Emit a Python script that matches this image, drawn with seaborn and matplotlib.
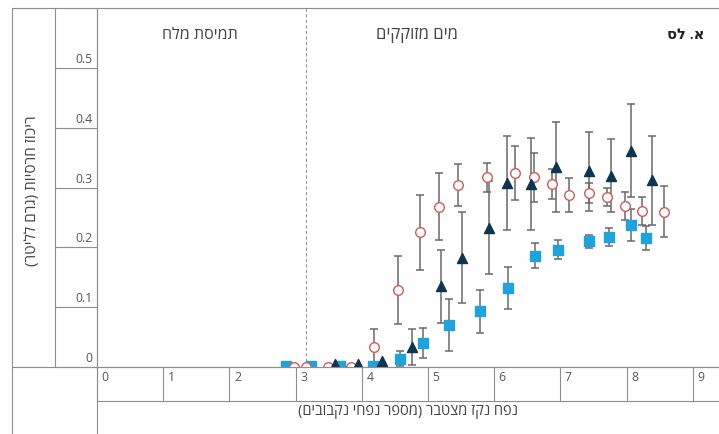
import matplotlib
matplotlib.use("Agg")
import numpy as np
import pandas as pd
import seaborn as sns
from matplotlib import pyplot as plt
from matplotlib.lines import Line2D
from matplotlib.transforms import ScaledTranslation

# red open circles
circle_x = [2.97, 3.16, 3.49, 3.84, 4.19, 4.54, 4.88, 5.17, 5.45, 5.89,
            6.32, 6.60, 6.88, 7.13, 7.43, 7.70, 7.97, 8.23, 8.56]
circle_y = [0, 0, 0, 0, 0.034, 0.129, 0.225, 0.268, 0.304, 0.317,
            0.324, 0.317, 0.306, 0.288, 0.291, 0.285, 0.269, 0.261, 0.260]
circle_err = [0, 0, 0, 0, 0.030, 0.057, 0.062, 0.056, 0.035, 0.024,
              0.045, 0.041, 0.025, 0.028, 0.017, 0.015, 0.023, 0.024, 0.042]

# dark triangles
triangle_x = [3.60, 3.95, 4.30, 4.76, 5.20, 5.51, 5.92, 6.19, 6.55, 6.93,
              7.43, 7.76, 8.06, 8.38]
triangle_y = [0.005, 0.005, 0.010, 0.034, 0.135, 0.183, 0.233, 0.308, 0.306, 0.335,
              0.327, 0.320, 0.362, 0.312]
triangle_err = [0, 0, 0, 0.030, 0.061, 0.076, 0.078, 0.079, 0.077, 0.075,
                0.066, 0.061, 0.077, 0.075]

# light blue squares
square_x = [2.86, 3.24, 3.67, 4.17, 4.58, 4.93, 5.32, 5.78, 6.21, 6.61,
            6.96, 7.43, 7.73, 8.07, 8.29]
square_y = [0.002, 0.002, 0.002, 0.002, 0.014, 0.040, 0.070, 0.093, 0.132, 0.186,
            0.196, 0.210, 0.217, 0.237, 0.216]
square_err = [0, 0, 0, 0, 0.012, 0.025, 0.044, 0.036, 0.035, 0.021,
              0.016, 0.011, 0.015, 0.027, 0.020]

x_ticks = [0, 1, 2, 3, 4, 5, 6, 7, 8, 9]
y_ticks = [0, 0.1, 0.2, 0.3, 0.4, 0.5]
y_tick_labels = ["0", "0.1", "0.2", "0.3", "0.4", "0.5"]
switch_x = 3.15

label_salt = "תמיסת מלח"
label_water = "מים מזוקקים"
label_panel = "א. לס"
label_y = "ריכוז חרסיות (גרם לליטר)"
label_x = "נפח נקז מצטבר (מספר נפחי נקבובים)"

FRAME = "#8e8e8e"
TEXT = "#444444"


def rtl(s):
    # matplotlib has no bidi support, so lay Hebrew out in visual order
    swap = {"(": ")", ")": "("}
    return "".join(swap.get(c, c) for c in reversed(s))


sns.set_theme(style="white")
plt.rcParams["font.family"] = ["Open Sans", "DejaVu Sans"]

W, H = 719, 434
fig = plt.figure(figsize=(W / 100, H / 100), dpi=100)
fig.patch.set_facecolor("white")
ax = fig.add_axes([97 / W, 67 / H, 622 / W, 359 / H])

series = [
    (square_x, square_y, square_err, "s", "#1fa3dd", "#1fa3dd", 44),
    (circle_x, circle_y, circle_err, "o", "white", "#cf5a5a", 48),
    (triangle_x, triangle_y, triangle_err, "^", "#0e3550", "#0e3550", 52),
]
for xs, ys, errs, marker, face, edge, size in series:
    pdf = pd.DataFrame({"x": xs, "y": ys, "err": errs})
    pdf_err = pdf[pdf.err > 0]
    ax.errorbar(pdf_err.x, pdf_err.y, yerr=pdf_err.err, fmt="none",
                ecolor="#6a6a6a", elinewidth=1.1, capsize=2.6, capthick=1.1,
                zorder=2)
    sns.scatterplot(x="x", y="y", data=pdf, marker=marker, s=size,
                    facecolor=face, edgecolor=edge, linewidth=1.0,
                    zorder=3, ax=ax)

ax.axvline(switch_x, color="#9a9a9a", lw=0.8, ls=(0, (3, 2)), zorder=1)

ax.set_xlim(0, 9.396)
ax.set_ylim(0, 0.6003)

for side in ["top", "right"]:
    ax.spines[side].set_visible(False)
for side in ["left", "bottom"]:
    ax.spines[side].set_color(FRAME)
    ax.spines[side].set_linewidth(0.8)

ax.set_xticks(x_ticks)
ax.set_xticks(np.arange(0.5, 9, 1.0), minor=True)
ax.set_yticks(y_ticks)
ax.set_yticklabels(y_tick_labels)
ax.tick_params(axis="x", which="major", direction="out", length=24.5, width=0.8,
               color=FRAME, pad=-21.5, labelsize=8.8, labelcolor="#555555")
ax.tick_params(axis="x", which="minor", direction="out", length=11.5, width=0.8,
               color=FRAME)
ax.tick_params(axis="y", which="major", direction="out", length=30.2, width=0.8,
               color=FRAME, pad=-27.0, labelsize=8.8, labelcolor="#555555")
ax.tick_params(left=True, bottom=True)

x_shift = ScaledTranslation(0.08, 0, fig.dpi_scale_trans)
for lab in ax.get_xticklabels():
    lab.set_transform(lab.get_transform() + x_shift)
y_shift = ScaledTranslation(0, 0.10, fig.dpi_scale_trans)
for lab in ax.get_yticklabels():
    lab.set_transform(lab.get_transform() + y_shift)

ax.set_ylabel(rtl(label_y), fontsize=11, color=TEXT)
ax.yaxis.label.set_verticalalignment("center")
ax.yaxis.set_label_coords(-0.1029, 0.49)
ax.set_xlabel(rtl(label_x), fontsize=10.5, color=TEXT)
ax.xaxis.label.set_verticalalignment("center")
ax.xaxis.set_label_coords(0.5, -0.1253)

ax.text(1.56, 0.555, rtl(label_salt), ha="center", va="center",
        fontsize=11.5, color=TEXT)
ax.text(4.84, 0.555, rtl(label_water), ha="center", va="center",
        fontsize=12, color=TEXT)
ax.text(9.18, 0.555, rtl(label_panel), ha="right", va="center",
        fontsize=10.5, color="#222222", fontweight="semibold")

# table-like frame around the plot
for (x0, y0, x1, y1) in [(12, 8, W, 8), (12, 8, 12, H), (55, 8, 55, 367),
                         (97, 8, 97, H), (12, 367, W, 367), (97, 401, W, 401)]:
    fig.add_artist(Line2D([x0 / W, x1 / W], [1 - y0 / H, 1 - y1 / H],
                          transform=fig.transFigure, color=FRAME, lw=0.8))

fig.savefig("out.png", dpi=100)
